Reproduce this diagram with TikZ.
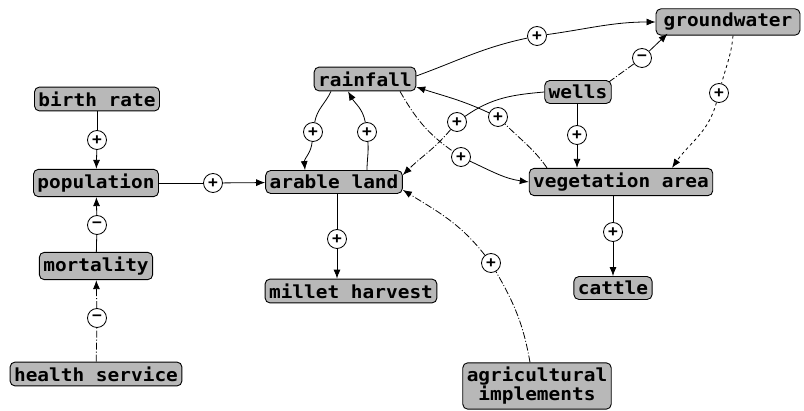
\documentclass[tikz,border=0pt]{standalone}
\usepackage{fontspec}
\newfontfamily\boxfont[FakeStretch=1.08]{DejaVu Sans Mono Bold}
\usetikzlibrary{arrows.meta}
\tikzset{
	var/.style={draw,line width=0.9pt,rounded corners=5pt,fill=black!28,
		font=\boxfont\fontsize{18}{19}\selectfont,inner xsep=4pt,inner ysep=4.5pt},
	sign/.style={draw,circle,line width=0.8pt,fill=white,inner sep=0pt,
		minimum size=19pt,font=\boxfont\fontsize{15}{15}\selectfont},
	link/.style={line width=0.8pt},
	arr/.style={-{Latex[length=9pt,width=7pt]}},
	faint/.style={dash pattern=on 7pt off 2pt on 1pt off 2pt}
}
\begin{document}
\begin{tikzpicture}[x=1pt,y=1pt]
	\useasboundingbox (0,0) rectangle (804,-411);
	% variables
	\node[var] (birth) at (97,-99) {birth rate};
	\node[var] (pop) at (96,-183) {population};
	\node[var] (mort) at (96,-266) {mortality};
	\node[var] (health) at (96,-374) {health service};
	\node[var] (rain) at (365,-79) {rainfall};
	\node[var] (arable) at (334,-182) {arable land};
	\node[var] (millet) at (351,-291) {millet harvest};
	\node[var] (wells) at (578,-92) {wells};
	\node[var,minimum width=144pt] (gw) at (728,-22) {groundwater};
	\node[var] (veg) at (621,-182) {vegetation area};
	\node[var] (cattle) at (613,-288) {cattle};
	\node[var,align=center] (agri) at (537,-386) {agricultural\\ implements};
	% signs
	\node[sign] (pBirthPop) at (97,-140) {+};
	\node[sign] (pMortPop) at (97,-225) {−};
	\node[sign] (pHealthMort) at (97,-318) {−};
	\node[sign] (pPopArable) at (213,-183) {+};
	\node[sign] (pRainArable) at (313,-132) {+};
	\node[sign] (pArableRain) at (367,-132) {+};
	\node[sign] (pArableMillet) at (337,-239) {+};
	\node[sign] (pRainGw) at (537,-36) {+};
	\node[sign] (pWellsGw) at (642,-58) {−};
	\node[sign] (pWellsVeg) at (577,-135) {+};
	\node[sign] (pGwVeg) at (719,-93) {+};
	\node[sign] (pRainVeg) at (461,-157) {+};
	\node[sign] (pWellsArable) at (457,-122) {+};
	\node[sign] (pVegRain) at (498,-117) {+};
	\node[sign] (pVegCattle) at (613,-232) {+};
	\node[sign] (pAgriArable) at (491,-263) {+};
	% left column
	\draw[link] (birth) -- (pBirthPop);
	\draw[link,arr] (pBirthPop) -- (pop);
	\draw[link] (mort) -- (pMortPop);
	\draw[link,arr] (pMortPop) -- (pop);
	\draw[link,faint] (health) -- (pHealthMort);
	\draw[link,arr,faint] (pHealthMort) -- (mort);
	\draw[link] (pop) -- (pPopArable);
	\draw[link,arr] (pPopArable) -- (arable);
	% rainfall and arable land
	\draw[link] ([xshift=-34pt]rain.south) to[out=-115,in=80] (pRainArable);
	\draw[link,arr] (pRainArable) to[out=-95,in=95] ([xshift=-29pt]arable.north);
	\draw[link] ([xshift=33pt]arable.north) to[out=90,in=-85] (pArableRain);
	\draw[link,arr] (pArableRain) to[out=100,in=-60] ([xshift=-17pt]rain.south);
	\draw[link] (pArableMillet |- arable.south) -- (pArableMillet);
	\draw[link,arr] (pArableMillet) -- (pArableMillet |- millet.north);
	% groundwater and wells
	\draw[link] ([yshift=3pt]rain.east) to[out=20,in=192] (pRainGw);
	\draw[link,arr] (pRainGw) to[out=8,in=180] (gw.west);
	\draw[link,faint] ([xshift=-3pt,yshift=-2pt]wells.north east) -- (pWellsGw);
	\draw[link,arr] (pWellsGw) -- ([xshift=12pt,yshift=2pt]gw.south west);
	\draw[link] (pWellsVeg |- wells.south) -- (pWellsVeg);
	\draw[link,arr] (pWellsVeg) -- (pWellsVeg |- veg.north);
	\draw[link,dashed] ([xshift=5pt]gw.south) to[out=-95,in=75] (pGwVeg);
	\draw[link,arr,dashed] (pGwVeg) to[out=-105,in=55] ([xshift=51pt]veg.north);
	\draw[link,faint] ([xshift=35pt]rain.south) to[out=-60,in=145] (pRainVeg);
	\draw[link,arr] (pRainVeg) to[out=-25,in=172] (veg.west);
	\draw[link] (wells.west) to[out=185,in=35] (pWellsArable);
	\draw[link,arr,faint] (pWellsArable) to[out=-130,in=45] ([yshift=-5pt]arable.north east);
	\draw[link,faint] ([xshift=-74pt]veg.north) to[out=125,in=-45] (pVegRain);
	\draw[link,arr] (pVegRain) to[out=155,in=-18] ([yshift=-8pt]rain.east);
	\draw[link] (pVegCattle |- veg.south) -- (pVegCattle);
	\draw[link,arr] (pVegCattle) -- (pVegCattle |- cattle.north);
	% implements
	\draw[link,faint] ([xshift=-7pt]agri.north) to[out=100,in=-60] (pAgriArable);
	\draw[link,arr,faint] (pAgriArable) to[out=128,in=-32] ([yshift=4pt]arable.south east);
\end{tikzpicture}
\end{document}
